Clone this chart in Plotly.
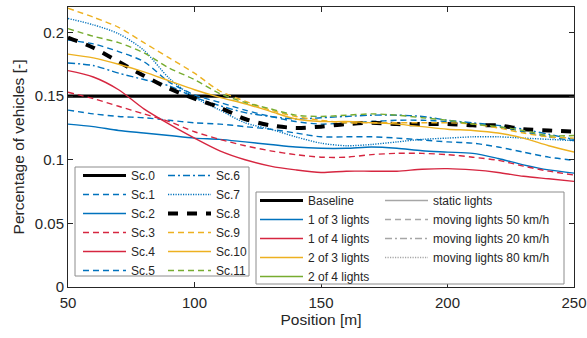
import plotly.graph_objects as go

x_pos = [50, 60, 70, 80, 90, 100, 110, 120, 130, 140, 150, 160, 170, 180, 190, 200, 210, 220, 230, 240, 250]

sc0 = [0.150] * 21
sc1 = [.139, .136, .134, .133, .131, .129, .128, .126, .124, .121, .118, .118, .118, .117, .1155, .114, .113, .110, .106, .102, .0995]
sc2 = [.128, .126, .123, .121, .119, .117, .116, .114, .112, .110, .109, .109, .110, .109, .107, .106, .105, .101, .096, .092, .0895]
sc3 = [.153, .148, .142, .136, .130, .122, .116, .111, .107, .104, .102, .102, .104, .105, .105, .104, .102, .0995, .095, .091, .088]
sc4 = [.170, .165, .155, .140, .128, .117, .107, .100, .095, .092, .090, .091, .091, .091, .0925, .093, .092, .090, .087, .085, .083]
sc5 = [.194, .191, .185, .177, .161, .151, .145, .139, .134, .130, .128, .129, .130, .131, .131, .130, .128, .126, .122, .118, .115]
sc6 = [.176, .174, .168, .163, .158, .149, .1425, .137, .134, .132, .133, .134, .135, .135, .134, .131, .129, .127, .124, .120, .116]
sc7 = [.211, .206, .199, .186, .164, .149, .139, .129, .124, .118, .113, .111, .112, .114, .116, .117, .118, .118, .117, .116, .115]
sc8 = [.196, .188, .177, .166, .156, .148, .141, .132, .127, .125, .126, .128, .129, .128, .128, .128, .127, .127, .124, .123, .122]
sc9 = [.219, .212, .204, .192, .180, .168, .154, .146, .139, .134, .131, .129, .129, .129, .129, .129, .128, .125, .121, .118, .117]
sc10 = [.183, .180, .175, .169, .162, .155, .149, .144, .138, .132, .130, .130, .129, .128, .126, .124, .123, .121, .117, .111, .106]
sc11 = [.203, .197, .192, .184, .172, .163, .152, .145, .140, .135, .134, .135, .136, .135, .133, .131, .128, .126, .123, .119, .119]

names = ["Sc.0", "Sc.1", "Sc.2", "Sc.3", "Sc.4", "Sc.5", "Sc.6", "Sc.7", "Sc.8", "Sc.9", "Sc.10", "Sc.11"]
series = [sc0, sc1, sc2, sc3, sc4, sc5, sc6, sc7, sc8, sc9, sc10, sc11]

BLUE = "#0072BD"
RED = "#D62640"
YEL = "#EDB120"
GRN = "#77AC30"
BLK = "#000000"
GREY = "#A6A6A6"

DASH = "6px,4px"
DASHDOT = "7px,3px,2px,3px"
DOT = "1.2px,1.3px"

styles = [
    (BLK, 3.2, "solid"),
    (BLUE, 1.4, DASH),
    (BLUE, 1.4, "solid"),
    (RED, 1.4, DASH),
    (RED, 1.4, "solid"),
    (BLUE, 1.4, DASH),
    (BLUE, 1.4, DASHDOT),
    (BLUE, 1.4, DOT),
    (BLK, 4.0, "10px,9px"),
    (YEL, 1.4, DASH),
    (YEL, 1.4, "solid"),
    (GRN, 1.4, DASH),
]

fig = go.Figure()
for i, (nm, ys) in enumerate(zip(names, series)):
    c, w, d = styles[i]
    fig.add_trace(go.Scatter(
        x=x_pos, y=ys, name=nm, mode="lines",
        line=dict(color=c, width=w, dash=d, shape="spline", smoothing=0.8),
        legend="legend" if i < 6 else "legend2",
    ))

legA_names = ["Baseline", "1 of 3 lights", "1 of 4 lights", "2 of 3 lights", "2 of 4 lights"]
legA_cols = [BLK, BLUE, RED, YEL, GRN]
legA_w = [3.2, 1.4, 1.4, 1.4, 1.4]
legB_names = ["static lights", "moving lights 50 km/h", "moving lights 20 km/h", "moving lights 80 km/h"]
legB_dash = ["solid", DASH, DASHDOT, DOT]

for nm, c, w in zip(legA_names, legA_cols, legA_w):
    fig.add_trace(go.Scatter(x=[None], y=[None], name=nm, mode="lines",
                             line=dict(color=c, width=w), legend="legend3"))
for nm, d in zip(legB_names, legB_dash):
    fig.add_trace(go.Scatter(x=[None], y=[None], name=nm, mode="lines",
                             line=dict(color=GREY, width=1.4, dash=d), legend="legend4"))

W, H = 587, 338
L, R, T, B = 68, 13, 7, 51
pw, ph = W - L - R, H - T - B

def px(xp):
    return (xp - L) / pw

def py(yp):
    return (H - B - yp) / ph

leg_font = dict(family="Liberation Sans, Arial, sans-serif", size=12, color="#262626")
common = dict(bgcolor="rgba(0,0,0,0)", borderwidth=0, font=leg_font, itemwidth=43,
              xanchor="left", yanchor="top", tracegroupgap=0, traceorder="normal")

fig.update_layout(
    width=W, height=H,
    margin=dict(l=L, r=R, t=T, b=B, autoexpand=False),
    paper_bgcolor="white", plot_bgcolor="white",
    font=dict(family="Liberation Sans, Arial, sans-serif", color="#262626"),
    showlegend=True,
    legend=dict(x=px(78), y=py(161), **common),
    legend2=dict(x=px(163), y=py(161), **common),
    legend3=dict(x=px(255), y=py(186), **common),
    legend4=dict(x=px(380), y=py(186), **common),
    shapes=[
        dict(type="rect", xref="paper", yref="paper", x0=px(75), x1=px(249), y0=py(276), y1=py(167),
             fillcolor="white", line=dict(color="#8C8C8C", width=1), layer="above"),
        dict(type="rect", xref="paper", yref="paper", x0=px(256), x1=px(564), y0=py(284), y1=py(192),
             fillcolor="white", line=dict(color="#8C8C8C", width=1), layer="above"),
    ],
)

fig.update_xaxes(
    range=[50, 250], tickvals=[50, 100, 150, 200, 250], automargin=False,
    ticks="inside", ticklen=5, tickcolor="#262626", mirror="ticks",
    showline=True, linecolor="#262626", linewidth=1, showgrid=False, zeroline=False,
    tickfont=dict(size=15, color="#262626"), ticklabeloverflow="allow", ticklabelstandoff=2,
    title=dict(text="Position [m]", font=dict(size=15.5, color="#262626"), standoff=4),
)
fig.update_yaxes(
    range=[0, 0.22], tickvals=[0, 0.05, 0.1, 0.15, 0.2], ticktext=["0", "0.05", "0.1", "0.15", "0.2"],
    automargin=False,
    ticks="inside", ticklen=5, tickcolor="#262626", mirror="ticks",
    showline=True, linecolor="#262626", linewidth=1, showgrid=False, zeroline=False,
    tickfont=dict(size=15, color="#262626"), ticklabeloverflow="allow",
    title=dict(text="Percentage of vehicles [-]", font=dict(size=15.5, color="#262626"), standoff=6),
)

fig.write_html("out.html")
